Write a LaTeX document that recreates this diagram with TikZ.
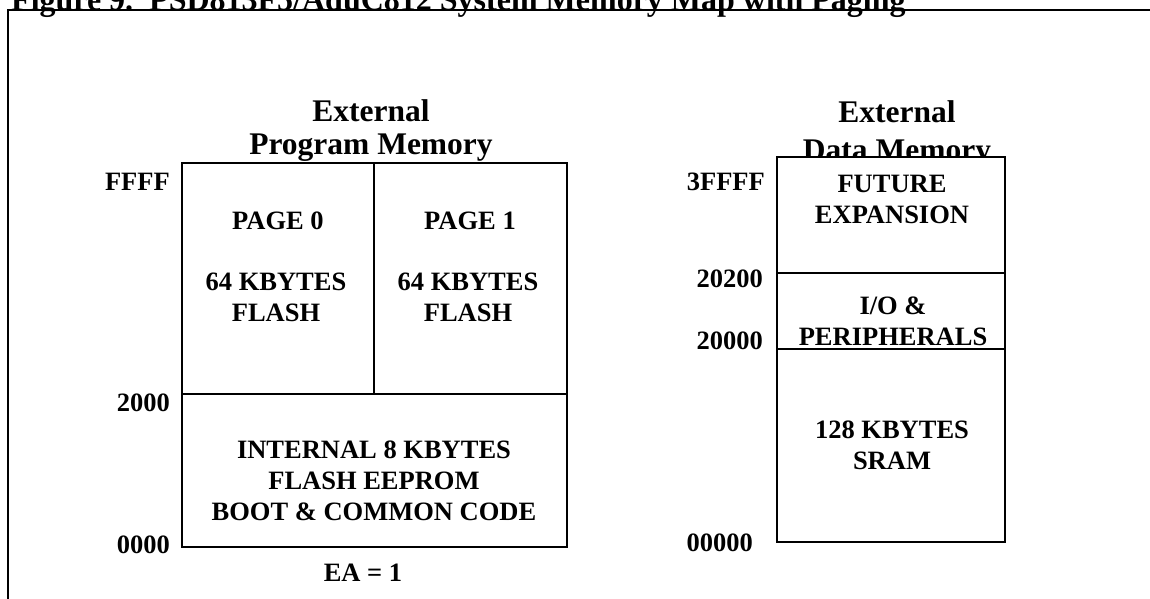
\documentclass[tikz,border=0pt]{standalone}
\usepackage{fontspec}
\setmainfont{Liberation Serif}

\begin{document}
\begin{tikzpicture}[x=1pt, y=-1pt,
    lbl/.style={font=\bfseries\fontsize{26.5}{31}\selectfont, align=center, inner sep=0pt},
    head/.style={lbl, font=\bfseries\fontsize{31.5}{#1}\selectfont},
    addr/.style={lbl, anchor=east},
    memline/.style={line width=1.7pt}]
  \useasboundingbox (0,0) rectangle (1150,599);
  % title and frame
  \node[font=\bfseries\fontsize{32}{38}\selectfont, anchor=base west, inner sep=0pt]
    (title) at (11,11) {Figure 9.~~PSD813F5/AduC812 System Memory Map with Paging};
  \draw[line width=2pt] (8,599) -- (8,10) -- (1150,10);

  % program memory
  \node[head=33] (prghead) at (371,131) {External\\Program Memory};
  \draw[memline, fill=white] (182,163) rectangle (567,547);
  \draw[memline] (374,163) -- (374,394);
  \draw[memline] (182,394) -- (567,394);
  \node[lbl] (page0) at (278,221) {PAGE 0};
  \node[lbl] (page1) at (470,221) {PAGE 1};
  \node[lbl] (flash0) at (276,297) {64 KBYTES\\FLASH};
  \node[lbl] (flash1) at (468,297) {64 KBYTES\\FLASH};
  \node[lbl] (internal) at (374,481)
    {INTERNAL 8 KBYTES\\FLASH EEPROM\\BOOT \& COMMON CODE};
  \node[addr] (pffff) at (170,182) {FFFF};
  \node[addr] (p2000) at (170,403) {2000};
  \node[addr] (p0000) at (170,545) {0000};
  \node[lbl] (ea) at (363,573) {EA = 1};

  % data memory
  \node[head=38] (dathead) at (897,134) {External\\Data Memory};
  \draw[memline, fill=white] (777,157) rectangle (1005,542);
  \draw[memline] (777,273) -- (1005,273);
  \draw[memline] (777,349) -- (1005,349);
  \node[lbl] (future) at (892,199) {FUTURE\\EXPANSION};
  \node[lbl] (io) at (893,321) {I/O \&\\PERIPHERALS};
  \node[lbl] (sram) at (892,445) {128 KBYTES\\SRAM};
  \node[addr] (d3ffff) at (765,182) {3FFFF};
  \node[addr] (d20200) at (763,279) {20200};
  \node[addr] (d20000) at (763,341) {20000};
  \node[addr] (d00000) at (753,543) {00000};
\end{tikzpicture}
\end{document}
